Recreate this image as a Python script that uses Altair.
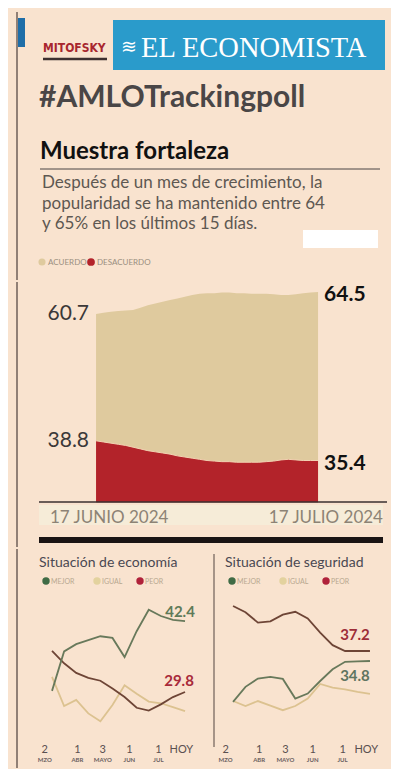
import altair as alt
import pandas as pd

# ---------------- data ----------------
dias = list(range(31))  # 17 junio 2024 -> 17 julio 2024
acuerdo = [60.7, 60.9, 61.1, 61.2, 61.3, 61.4, 61.8, 62.2, 62.5, 62.8, 63.1,
           63.4, 63.7, 64.0, 64.2, 64.3, 64.3, 64.4, 64.4, 64.3, 64.3, 64.2,
           64.2, 64.2, 64.1, 64.0, 64.0, 64.1, 64.3, 64.4, 64.5]
desacuerdo = [38.8, 38.6, 38.4, 38.2, 38.0, 37.7, 37.4, 37.1, 36.9, 36.7, 36.5,
              36.2, 36.0, 35.8, 35.6, 35.4, 35.3, 35.2, 35.2, 35.1, 35.1, 35.1,
              35.1, 35.2, 35.3, 35.5, 35.6, 35.5, 35.4, 35.4, 35.4]
fecha_ini = "17 JUNIO 2024"
fecha_fin = "17 JULIO 2024"

encuestas = list(range(12))
eco_mejor = [30.0, 37.0, 38.3, 39.0, 39.7, 39.4, 36.0, 40.6, 44.4, 43.3, 42.6, 42.4]
eco_igual = [32.5, 27.3, 28.4, 26.0, 24.6, 27.5, 31.0, 29.5, 28.1, 27.8, 27.1, 26.4]
eco_peor = [37.1, 34.9, 33.2, 32.3, 31.8, 30.4, 28.9, 27.0, 26.5, 27.6, 28.9, 29.8]
seg_mejor = [25.0, 28.6, 30.6, 31.0, 30.5, 25.8, 27.0, 30.0, 32.8, 34.6, 34.7, 34.8]
seg_igual = [25.2, 24.0, 25.2, 24.1, 23.0, 24.0, 25.8, 29.3, 28.4, 28.0, 27.4, 26.9]
seg_peor = [48.0, 46.5, 44.0, 44.3, 45.9, 46.6, 45.0, 41.6, 38.6, 37.2, 37.2, 37.2]
series = ["MEJOR", "IGUAL", "PEOR"]
tick_pos = [-0.6, 2.1, 4.2, 6.4, 8.8, 10.7]
tick_num = ["2", "1", "3", "1", "1", "HOY"]
tick_mes = ["MZO", "ABR", "MAYO", "JUN", "JUL", ""]

titulo_tag = "#AMLOTrackingpoll"
titulo = "Muestra fortaleza"
subtitulo = ["Después de un mes de crecimiento, la",
             "popularidad se ha mantenido entre 64",
             "y 65% en los últimos 15 días."]

# ---------------- styles ----------------
BG = "#f9e3cf"
TAN = "#dfca9e"
RED = "#b3232a"
LINE_COL = {"MEJOR": "#68795b", "IGUAL": "#dcc290", "PEOR": "#6e4536"}
DOT_COL = {"MEJOR": "#3f6b45", "IGUAL": "#e3d29e", "PEOR": "#b0223a"}
FONT = "Lato"
W = 383

one = pd.DataFrame({"k": [0]})


def txt(s, x, y, size, color, font=FONT, weight="normal", align="left", **kw):
    return alt.Chart(one).mark_text(text=s, align=align, baseline="alphabetic",
                                    fontSize=size, color=color, font=font,
                                    fontWeight=weight, **kw).encode(
        x=alt.value(x), y=alt.value(y))


def box(x1, x2, y1, y2, color):
    return alt.Chart(one).mark_rect(color=color).encode(
        x=alt.value(x1), x2=alt.value(x2), y=alt.value(y1), y2=alt.value(y2))


def hrule(x1, x2, y, color, w):
    return alt.Chart(one).mark_rule(color=color, strokeWidth=w).encode(
        x=alt.value(x1), x2=alt.value(x2), y=alt.value(y))


def vrule(x, y1, y2, color, w):
    return alt.Chart(one).mark_rule(color=color, strokeWidth=w).encode(
        x=alt.value(x), y=alt.value(y1), y2=alt.value(y2))


def dot(x, y, color, size=60):
    return alt.Chart(one).mark_circle(size=size, color=color, opacity=1).encode(
        x=alt.value(x), y=alt.value(y))


# ---------------- header ----------------
sub_layers = [txt(line, 34, 180 + 20.5 * i, 17, "#5e5852")
              for i, line in enumerate(subtitulo)]
header = alt.layer(
    vrule(9, 4, 272, "#6e5f58", 1.5),
    box(10, 17, 10, 39, "#1f6ea8"),
    txt("MITOFSKY", 35, 44, 12, "#a8262e", font="DejaVu Sans Condensed", weight="bold"),
    hrule(35, 99, 51, "#3d3030", 2.5),
    box(105, 377, 12, 62, "#2a9bcb"),
    txt("≋", 113, 45, 19, "white", font="DejaVu Sans"),
    txt("EL ECONOMISTA", 133, 49, 28.5, "white", font="Liberation Serif"),
    txt(titulo_tag, 31, 99, 30, "#4a4646", weight="bold"),
    txt(titulo, 32, 151, 24, "#111111", weight="bold"),
    hrule(32, 372, 161, "#4a4444", 1),
    *sub_layers,
    box(295, 370, 222, 240, "white"),
    dot(34, 254, TAN, 50),
    txt("ACUERDO", 40, 257, 8, "#9a8f80"),
    dot(83, 254, RED, 60),
    txt("DESACUERDO", 89, 257, 8, "#9a8f80"),
).properties(width=W, height=272)

# ---------------- main area chart ----------------
df_main = pd.DataFrame({"dia": dias, "acuerdo": acuerdo, "desacuerdo": desacuerdo})
xs = alt.Scale(domain=[-11.9, 39.86], nice=False, zero=False)
ys = alt.Scale(domain=[20.46, 66.23], nice=False, zero=False)
base = alt.Chart(df_main).encode(x=alt.X("dia:Q", scale=xs, axis=None))
area_tan = base.mark_area(color=TAN, opacity=1).encode(
    y=alt.Y("acuerdo:Q", scale=ys, axis=None), y2=alt.datum(28.2))
area_red = base.mark_area(color=RED, opacity=1).encode(
    y=alt.Y("desacuerdo:Q", scale=ys, axis=None), y2=alt.datum(28.2))
edge = base.mark_line(color="#f2d2b2", strokeWidth=1).encode(
    y=alt.Y("desacuerdo:Q", scale=ys, axis=None))

lab = pd.DataFrame({
    "dia": [dias[0], dias[0], dias[-1], dias[-1]],
    "valor": [acuerdo[0], desacuerdo[0], acuerdo[-1], desacuerdo[-1]],
    "lado": ["izq", "izq", "der", "der"],
})
lab_base = alt.Chart(lab).encode(
    x=alt.X("dia:Q", scale=xs, axis=None),
    y=alt.Y("valor:Q", scale=ys, axis=None),
    text=alt.Text("valor:Q", format=".1f"))
lab_izq = lab_base.transform_filter("datum.lado == 'izq'").mark_text(
    align="right", baseline="middle", dx=-7, fontSize=21, font=FONT, color="#3b3838")
lab_der = lab_base.transform_filter("datum.lado == 'der'").mark_text(
    align="left", baseline="middle", dx=6, dy=3, fontSize=21, font=FONT, fontWeight="bold",
    color="#111111")

main = alt.layer(
    vrule(9, 0, 265, "#6e5f58", 1.5),
    area_tan, area_red, edge,
    lab_izq, lab_der,
    hrule(31, 379, 220, "#3a3030", 1.5),
    box(31, 375, 223, 243, "#f6ecd8"),
    txt(fecha_ini, 42, 241, 17, "#8d8375"),
    txt(fecha_fin, 375, 241, 17, "#8d8375", align="right"),
    box(31, 375, 255, 261, "#1a1414"),
).properties(width=W, height=265)


# ---------------- bottom panels ----------------
def panel(mejor, igual, peor, titulo_p, xdom, ydom, width, left, labels, vline):
    rows = []
    for s, vals in zip(series, [mejor, igual, peor]):
        for i, v in zip(encuestas, vals):
            rows.append({"idx": i, "serie": s, "valor": v})
    d = pd.DataFrame(rows)
    xsc = alt.Scale(domain=xdom, nice=False, zero=False)
    ysc = alt.Scale(domain=ydom, nice=False, zero=False)
    order = ["IGUAL", "PEOR", "MEJOR"]
    lines = []
    for s in order:
        lines.append(alt.Chart(d).transform_filter(f"datum.serie == '{s}'").mark_line(
            color=LINE_COL[s], strokeWidth=1.8).encode(
            x=alt.X("idx:Q", scale=xsc, axis=None),
            y=alt.Y("valor:Q", scale=ysc, axis=None)))
    lab_layers = []
    for s, color, dx, dy in labels:
        vals = {"MEJOR": mejor, "IGUAL": igual, "PEOR": peor}[s]
        ld = pd.DataFrame({"idx": [encuestas[-1]], "valor": [vals[-1]]})
        lab_layers.append(alt.Chart(ld).mark_text(
            fontSize=15, fontWeight="bold", font=FONT, color=color,
            dx=dx, dy=dy, baseline="middle", align="center").encode(
            x=alt.X("idx:Q", scale=xsc, axis=None),
            y=alt.Y("valor:Q", scale=ysc, axis=None),
            text=alt.Text("valor:Q", format=".1f")))
    tdf = pd.DataFrame({"pos": tick_pos, "num": tick_num, "mes": tick_mes})
    tnum = alt.Chart(tdf).mark_text(fontSize=11, font=FONT, color="#5a5050",
                                    baseline="alphabetic").encode(
        x=alt.X("pos:Q", scale=xsc, axis=None), y=alt.value(204), text="num:N")
    tmes = alt.Chart(tdf).mark_text(fontSize=6, font=FONT, fontWeight="bold",
                                    color="#6a6060", baseline="alphabetic").encode(
        x=alt.X("pos:Q", scale=xsc, axis=None), y=alt.value(213), text="mes:N")
    leg = [
        dot(left + 7, 32, DOT_COL["MEJOR"], 55),
        txt("MEJOR", left + 12, 34.5, 7, "#b8a890"),
        dot(left + 58, 32, DOT_COL["IGUAL"], 55),
        txt("IGUAL", left + 63, 34.5, 7, "#b8a890"),
        dot(left + 101, 32, DOT_COL["PEOR"], 55),
        txt("PEOR", left + 106, 34.5, 7, "#b8a890"),
    ]
    layers = [vline, txt(titulo_p, left, 18, 14, "#4a4852")] + leg + lines + lab_layers + [tnum, tmes]
    return alt.layer(*layers).properties(width=width, height=219)


left_panel = panel(eco_mejor, eco_igual, eco_peor, "Situación de economía",
                   [-3.64, 13.23], [16.3, 55.2], 204, 31,
                   [("MEJOR", "#5f7a58", -5, -9), ("PEOR", "#a82a3a", -6, -11)],
                   vrule(9, 0, 219, "#6e5f58", 1.5))
right_panel = panel(seg_mejor, seg_igual, seg_peor, "Situación de seguridad",
                    [-1.69, 12.69], [9.14, 61.66], 179, 13,
                    [("PEOR", "#9e2d38", -15, -16), ("MEJOR", "#5f7560", -15, 15)],
                    vrule(2, 5, 198, "#6e5f58", 1.2))

bottom = alt.hconcat(left_panel, right_panel, spacing=0)

chart = alt.vconcat(header, main, bottom, spacing=0).properties(
    background=BG, padding=0
).configure_view(stroke=None).configure_concat(spacing=0)

chart.save("out.html", embed_options={"renderer": "svg", "actions": False})
